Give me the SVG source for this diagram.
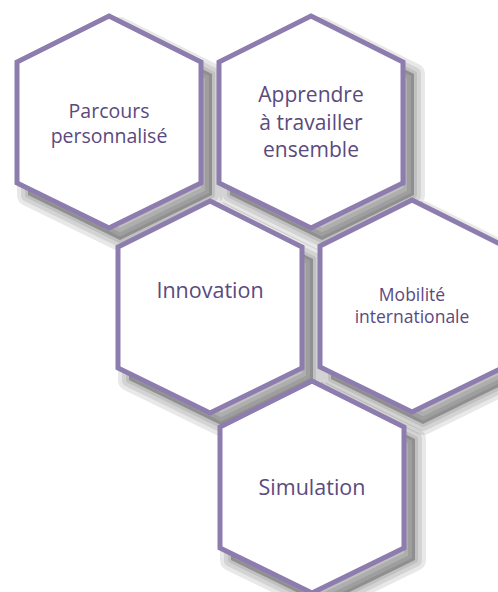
<svg xmlns="http://www.w3.org/2000/svg" width="498" height="592" viewBox="0 0 498 592">
<style>
.hex{fill:#ffffff;stroke:#8d7cae;stroke-width:5;stroke-linejoin:miter}
.sd{fill:#000000;fill-opacity:0.09;stroke:#000000;stroke-opacity:0.09;stroke-linejoin:round}
.lbl{font-family:"Open Sans","Noto Sans",sans-serif;fill:#5a4a7e;text-anchor:middle}
</style>
<defs>
<g id="shd" transform="translate(11,12)">
<polygon class="sd" stroke-width="22" points="0,-106 92,-60 92,61 0,106 -92,61 -92,-60"/>
<polygon class="sd" stroke-width="14" points="0,-106 92,-60 92,61 0,106 -92,61 -92,-60"/>
<polygon class="sd" stroke-width="6" points="0,-106 92,-60 92,61 0,106 -92,61 -92,-60"/>
</g>
</defs>
<rect width="498" height="592" fill="#ffffff"/>
<g id="n1" transform="translate(109,122)">
<use href="#shd"/>
<polygon class="hex" points="0,-106 92,-60 92,61 0,106 -92,61 -92,-60"/>
<text class="lbl" font-size="19.5"><tspan x="0" y="-4">Parcours</tspan><tspan x="0" y="21">personnalisé</tspan></text>
</g>
<g id="n2" transform="translate(311,122)">
<use href="#shd"/>
<polygon class="hex" points="0,-106 92,-60 92,61 0,106 -92,61 -92,-60"/>
<text class="lbl" font-size="21"><tspan x="0" y="-20">Apprendre</tspan><tspan x="0" y="8">à travailler</tspan><tspan x="0" y="35">ensemble</tspan></text>
</g>
<g id="n3" transform="translate(210,307)">
<use href="#shd"/>
<polygon class="hex" points="0,-106 92,-60 92,61 0,106 -92,61 -92,-60"/>
<text class="lbl" font-size="21.5" x="0" y="-9">Innovation</text>
</g>
<g id="n4" transform="translate(412,306)">
<use href="#shd"/>
<polygon class="hex" points="0,-106 92,-60 92,61 0,106 -92,61 -92,-60"/>
<text class="lbl" font-size="17.5"><tspan x="0" y="-5">Mobilité</tspan><tspan x="0" y="17">internationale</tspan></text>
</g>
<g id="n5" transform="translate(312,487)">
<use href="#shd"/>
<polygon class="hex" points="0,-106 92,-60 92,61 0,106 -92,61 -92,-60"/>
<text class="lbl" font-size="21.5" x="0" y="8">Simulation</text>
</g>
<g id="connectors"/>
</svg>
